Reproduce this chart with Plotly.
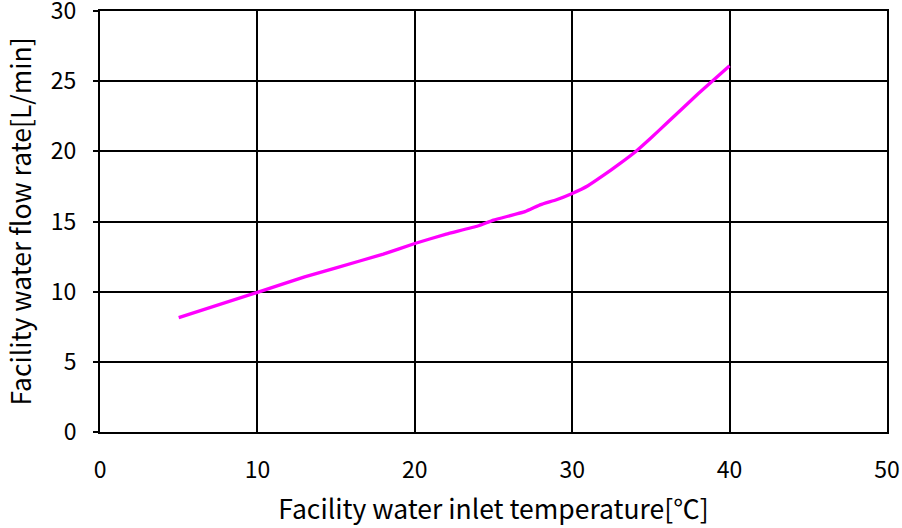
import plotly.graph_objects as go

temp_c = [5, 10, 13, 15, 18, 20, 22, 24, 25, 27, 28, 29, 30, 31, 32, 33, 34, 35, 36, 38, 40]
flow_lpm = [8.15, 9.95, 11.05, 11.7, 12.68, 13.43, 14.1, 14.68, 15.1, 15.7, 16.2, 16.55,
            17.0, 17.55, 18.3, 19.1, 19.95, 20.95, 22.0, 24.1, 26.1]

x_ticks = [0, 10, 20, 30, 40, 50]
y_ticks = [0, 5, 10, 15, 20, 25, 30]

font_family = "Noto Sans CJK JP"

fig = go.Figure()
fig.add_trace(go.Scatter(x=temp_c, y=flow_lpm, mode="lines",
                         line=dict(color="#FF00FF", width=3.3, shape="spline", smoothing=0.3),
                         showlegend=False))

fig.update_layout(
    width=902, height=528,
    margin=dict(l=100, r=15, t=11, b=96),
    paper_bgcolor="white", plot_bgcolor="white",
    font=dict(family=font_family, color="black", size=23),
)
fig.update_xaxes(
    range=[0, 50], tickvals=x_ticks, ticktext=[str(v) for v in x_ticks],
    showgrid=True, gridcolor="black", gridwidth=1.5,
    showline=True, linecolor="black", linewidth=2, mirror=True,
    ticks="", ticklabelstandoff=16, zeroline=False, automargin=False,
    ticklabeloverflow="allow",
    tickfont=dict(size=23),
    title=dict(text="Facility water inlet temperature[℃]", font=dict(size=26.5), standoff=17),
)
fig.update_yaxes(
    range=[0, 30], tickvals=y_ticks, ticktext=[str(v) for v in y_ticks],
    showgrid=True, gridcolor="black", gridwidth=1.5,
    showline=True, linecolor="black", linewidth=2, mirror=True,
    ticks="outside", ticklen=5, tickcolor="black", tickwidth=1.5,
    ticklabelstandoff=12, zeroline=False, automargin=False,
    ticklabeloverflow="allow",
    tickfont=dict(size=23),
    title=dict(text="Facility water flow rate[L/min]", font=dict(size=26.5), standoff=12),
)

fig.write_html("out.html", config={"displayModeBar": False},
               post_script="document.body.style.margin='0px';")
